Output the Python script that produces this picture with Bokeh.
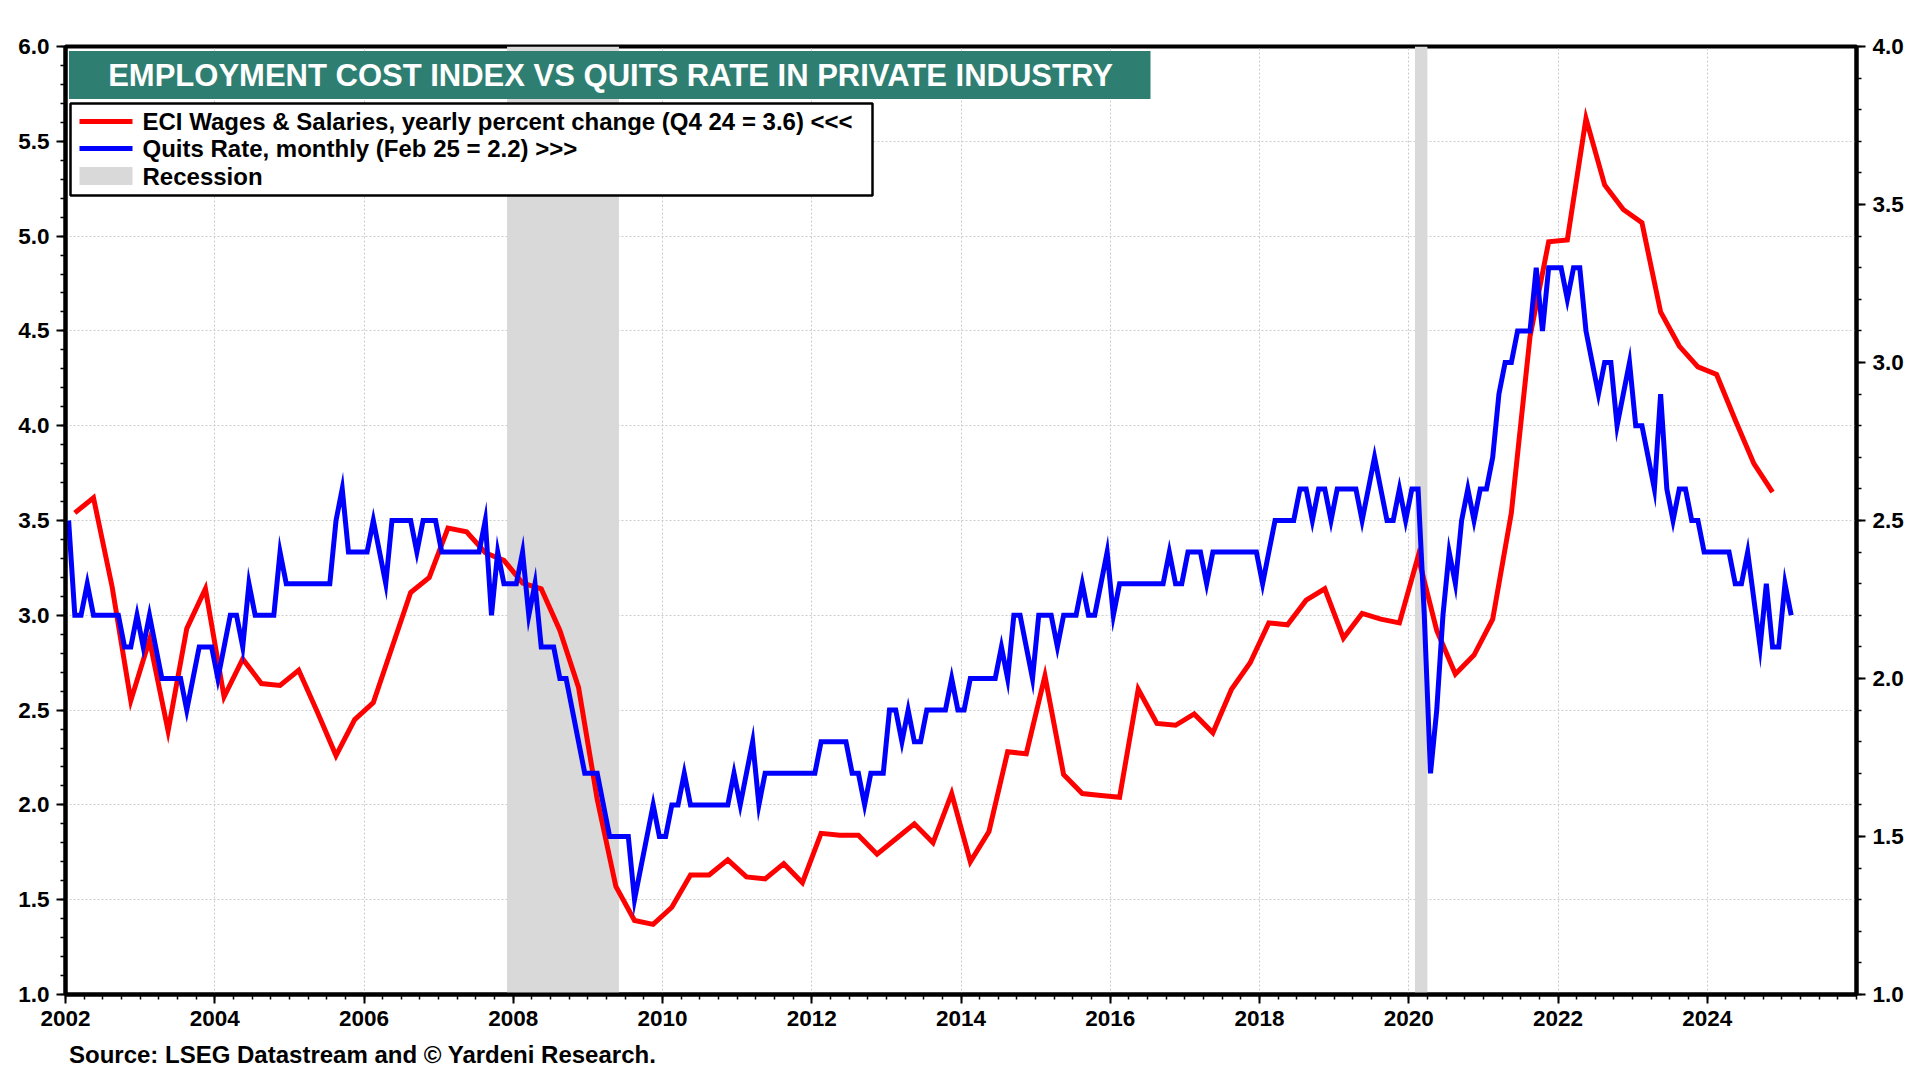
import pandas as pd
from bokeh.plotting import figure
from bokeh.models import (Range1d, LinearAxis, FixedTicker, BoxAnnotation, Label,
                          PrintfTickFormatter, Title)
from bokeh.embed import file_html
from bokeh.resources import INLINE

# ---------------- data ----------------
eci_start = "2002Q1"
eci = [
    3.54, 3.62, 3.15, 2.55,   # 2002
    2.87, 2.39, 2.93, 3.14,   # 2003
    2.57, 2.77, 2.64, 2.63,   # 2004
    2.71, 2.49, 2.26, 2.45,   # 2005
    2.54, 2.83, 3.12, 3.20,   # 2006
    3.46, 3.44, 3.33, 3.29,   # 2007
    3.17, 3.14, 2.92, 2.62,   # 2008
    2.03, 1.57, 1.39, 1.37,   # 2009
    1.46, 1.63, 1.63, 1.71,   # 2010
    1.62, 1.61, 1.69, 1.59,   # 2011
    1.85, 1.84, 1.84, 1.74,   # 2012
    1.82, 1.90, 1.80, 2.06,   # 2013
    1.70, 1.86, 2.28, 2.27,   # 2014
    2.68, 2.16, 2.06, 2.05,   # 2015
    2.04, 2.61, 2.43, 2.42,   # 2016
    2.48, 2.38, 2.61, 2.75,   # 2017
    2.96, 2.95, 3.08, 3.14,   # 2018
    2.88, 3.01, 2.98, 2.96,   # 2019
    3.31, 2.92, 2.69, 2.79,   # 2020
    2.98, 3.54, 4.47, 4.97,   # 2021
    4.98, 5.62, 5.27, 5.14,   # 2022
    5.07, 4.60, 4.42, 4.31,   # 2023
    4.27, 4.03, 3.80, 3.65,   # 2024
]

quits_start = "2002-01"
quits = [
    2.5, 2.2, 2.2, 2.3, 2.2, 2.2, 2.2, 2.2, 2.2, 2.1, 2.1, 2.2,  # 2002
    2.1, 2.2, 2.1, 2.0, 2.0, 2.0, 2.0, 1.9, 2.0, 2.1, 2.1, 2.1,  # 2003
    2.0, 2.1, 2.2, 2.2, 2.1, 2.3, 2.2, 2.2, 2.2, 2.2, 2.4, 2.3,  # 2004
    2.3, 2.3, 2.3, 2.3, 2.3, 2.3, 2.3, 2.5, 2.6, 2.4, 2.4, 2.4,  # 2005
    2.4, 2.5, 2.4, 2.3, 2.5, 2.5, 2.5, 2.5, 2.4, 2.5, 2.5, 2.5,  # 2006
    2.4, 2.4, 2.4, 2.4, 2.4, 2.4, 2.4, 2.5, 2.2, 2.4, 2.3, 2.3,  # 2007
    2.3, 2.4, 2.2, 2.3, 2.1, 2.1, 2.1, 2.0, 2.0, 1.9, 1.8, 1.7,  # 2008
    1.7, 1.7, 1.6, 1.5, 1.5, 1.5, 1.5, 1.3, 1.4, 1.5, 1.6, 1.5,  # 2009
    1.5, 1.6, 1.6, 1.7, 1.6, 1.6, 1.6, 1.6, 1.6, 1.6, 1.6, 1.7,  # 2010
    1.6, 1.7, 1.8, 1.6, 1.7, 1.7, 1.7, 1.7, 1.7, 1.7, 1.7, 1.7,  # 2011
    1.7, 1.8, 1.8, 1.8, 1.8, 1.8, 1.7, 1.7, 1.6, 1.7, 1.7, 1.7,  # 2012
    1.9, 1.9, 1.8, 1.9, 1.8, 1.8, 1.9, 1.9, 1.9, 1.9, 2.0, 1.9,  # 2013
    1.9, 2.0, 2.0, 2.0, 2.0, 2.0, 2.1, 2.0, 2.2, 2.2, 2.1, 2.0,  # 2014
    2.2, 2.2, 2.2, 2.1, 2.2, 2.2, 2.2, 2.3, 2.2, 2.2, 2.3, 2.4,  # 2015
    2.2, 2.3, 2.3, 2.3, 2.3, 2.3, 2.3, 2.3, 2.3, 2.4, 2.3, 2.3,  # 2016
    2.4, 2.4, 2.4, 2.3, 2.4, 2.4, 2.4, 2.4, 2.4, 2.4, 2.4, 2.4,  # 2017
    2.3, 2.4, 2.5, 2.5, 2.5, 2.5, 2.6, 2.6, 2.5, 2.6, 2.6, 2.5,  # 2018
    2.6, 2.6, 2.6, 2.6, 2.5, 2.6, 2.7, 2.6, 2.5, 2.5, 2.6, 2.5,  # 2019
    2.6, 2.6, 2.2, 1.7, 1.9, 2.2, 2.4, 2.3, 2.5, 2.6, 2.5, 2.6,  # 2020
    2.6, 2.7, 2.9, 3.0, 3.0, 3.1, 3.1, 3.1, 3.3, 3.1, 3.3, 3.3,  # 2021
    3.3, 3.2, 3.3, 3.3, 3.1, 3.0, 2.9, 3.0, 3.0, 2.8, 2.9, 3.0,  # 2022
    2.8, 2.8, 2.7, 2.6, 2.9, 2.6, 2.5, 2.6, 2.6, 2.5, 2.5, 2.4,  # 2023
    2.4, 2.4, 2.4, 2.4, 2.3, 2.3, 2.4, 2.25, 2.1, 2.3, 2.1, 2.1, # 2024
    2.3, 2.2,                                                   # 2025
]

recession_start = ["2007-12", "2020-02"]
recession_end = ["2009-06", "2020-04"]

x_ticks = list(range(2002, 2026, 2))
left_ticks = [1.0, 1.5, 2.0, 2.5, 3.0, 3.5, 4.0, 4.5, 5.0, 5.5, 6.0]
right_ticks = [1.0, 1.5, 2.0, 2.5, 3.0, 3.5, 4.0]

title_text = "EMPLOYMENT COST INDEX VS QUITS RATE IN PRIVATE INDUSTRY"
legend_labels = [
    "ECI Wages & Salaries, yearly percent change (Q4 24 = 3.6) <<<",
    "Quits Rate, monthly (Feb 25 = 2.2) >>>",
    "Recession",
]
source_text = "Source: LSEG Datastream and \u00a9 Yardeni Research."

# ---------------- positions from dates ----------------
eci_x = [p.year + (p.quarter - 0.5) / 4 for p in pd.period_range(eci_start, periods=len(eci), freq="Q")]
quits_x = [p.year + (p.month - 0.5) / 12 for p in pd.period_range(quits_start, periods=len(quits), freq="M")]
rec_x0 = [pd.Period(s, "M").year + (pd.Period(s, "M").month - 1) / 12 for s in recession_start]
rec_x1 = [pd.Period(s, "M").year + (pd.Period(s, "M").month - 1) / 12 for s in recession_end]

X0, X1 = 2002, 2026
YL0, YL1 = 1.0, 6.0
YR0, YR1 = 1.0, 4.0

W, H = 1920, 1080
BL, BR, BT, BB = 65, 64, 46, 86
FONT = "Liberation Sans"

p = figure(width=W, height=H, x_range=Range1d(X0, X1), y_range=Range1d(YL0, YL1),
           output_backend="svg", toolbar_location=None,
           min_border_left=BL, min_border_right=BR, min_border_top=BT, min_border_bottom=BB,
           background_fill_color="white", border_fill_color="white")
p.extra_y_ranges = {"quits": Range1d(YR0, YR1)}
p.outline_line_color = "black"
p.outline_line_width = 4

# page-pixel to data helpers
FL, FR, FT, FB = BL, W - BR, BT, H - BB
def dx(px):
    return X0 + (px - FL) / (FR - FL) * (X1 - X0)
def dy(py):
    return YL1 - (py - FT) / (FB - FT) * (YL1 - YL0)

def style_axis(ax):
    ax.axis_line_width = 4
    ax.axis_line_color = "black"
    ax.major_tick_out = 9
    ax.major_tick_in = 0
    ax.minor_tick_out = 5
    ax.minor_tick_in = 0
    ax.major_tick_line_width = 2
    ax.minor_tick_line_width = 1.5
    ax.major_tick_line_color = "black"
    ax.minor_tick_line_color = "black"
    ax.major_label_text_font = FONT
    ax.major_label_text_font_style = "bold"
    ax.major_label_text_font_size = "22.5px"
    ax.major_label_text_color = "black"
    ax.major_label_standoff = 7

xax = p.xaxis[0]
xax.ticker = FixedTicker(ticks=x_ticks, minor_ticks=[X0 + 0.25 * i for i in range(int((X1 - X0) * 4) + 1)])
style_axis(xax)

yax = p.yaxis[0]
yax.ticker = FixedTicker(ticks=left_ticks, minor_ticks=[round(1 + 0.1 * i, 1) for i in range(51)])
yax.formatter = PrintfTickFormatter(format="%.1f")
style_axis(yax)

rax = LinearAxis(y_range_name="quits",
                 ticker=FixedTicker(ticks=right_ticks, minor_ticks=[round(1 + 0.1 * i, 1) for i in range(31)]),
                 formatter=PrintfTickFormatter(format="%.1f"))
style_axis(rax)
p.add_layout(rax, "right")

for g in (p.xgrid[0], p.ygrid[0]):
    g.grid_line_color = "#CCCCCC"
    g.grid_line_dash = "2 2"
    g.grid_line_width = 1
p.xgrid[0].ticker = FixedTicker(ticks=x_ticks)
p.ygrid[0].ticker = FixedTicker(ticks=left_ticks)

# recession shading
p.quad(left=rec_x0, right=rec_x1, bottom=YL0, top=YL1, fill_color="#D9D9D9", line_color=None)

# series
p.line(eci_x, eci, line_color="#FF0000", line_width=5, line_join="miter")
p.line(quits_x, quits, line_color="#0000FF", line_width=5, line_join="miter", y_range_name="quits")

# title box
p.add_layout(BoxAnnotation(left=dx(68.5), right=dx(1150), top=dy(50.5), bottom=dy(98.5),
                           fill_color="#2E7F72", fill_alpha=1, line_color=None))
p.add_layout(Label(x=dx(610), y=dy(75), text=title_text, text_font=FONT, text_font_style="bold",
                   text_font_size="31px", text_color="white", text_align="center", text_baseline="middle"))

# legend
p.add_layout(BoxAnnotation(left=dx(70), right=dx(872), top=dy(103), bottom=dy(195),
                           fill_color="white", fill_alpha=1, line_color="black", line_alpha=1,
                           line_width=2.5))
rows = [121, 148, 175.5]
p.add_layout(BoxAnnotation(left=dx(79), right=dx(132), top=dy(rows[0] - 2.5), bottom=dy(rows[0] + 2.5),
                           fill_color="#FF0000", fill_alpha=1, line_color=None))
p.add_layout(BoxAnnotation(left=dx(79), right=dx(132), top=dy(rows[1] - 2.5), bottom=dy(rows[1] + 2.5),
                           fill_color="#0000FF", fill_alpha=1, line_color=None))
p.add_layout(BoxAnnotation(left=dx(79), right=dx(132), top=dy(rows[2] - 9), bottom=dy(rows[2] + 9),
                           fill_color="#D9D9D9", fill_alpha=1, line_color=None))
for r, t in zip(rows, legend_labels):
    p.add_layout(Label(x=dx(142), y=dy(r), text=t, text_font=FONT, text_font_style="bold",
                       text_font_size="24px", text_color="black", text_baseline="middle"))

# source (below the x axis)
p.add_layout(Title(text=source_text, align="left", offset=3.5, text_font=FONT, text_font_style="bold",
                   text_font_size="24px", text_color="black", standoff=21), "below")

open("out.html", "w").write(file_html(p, INLINE))
